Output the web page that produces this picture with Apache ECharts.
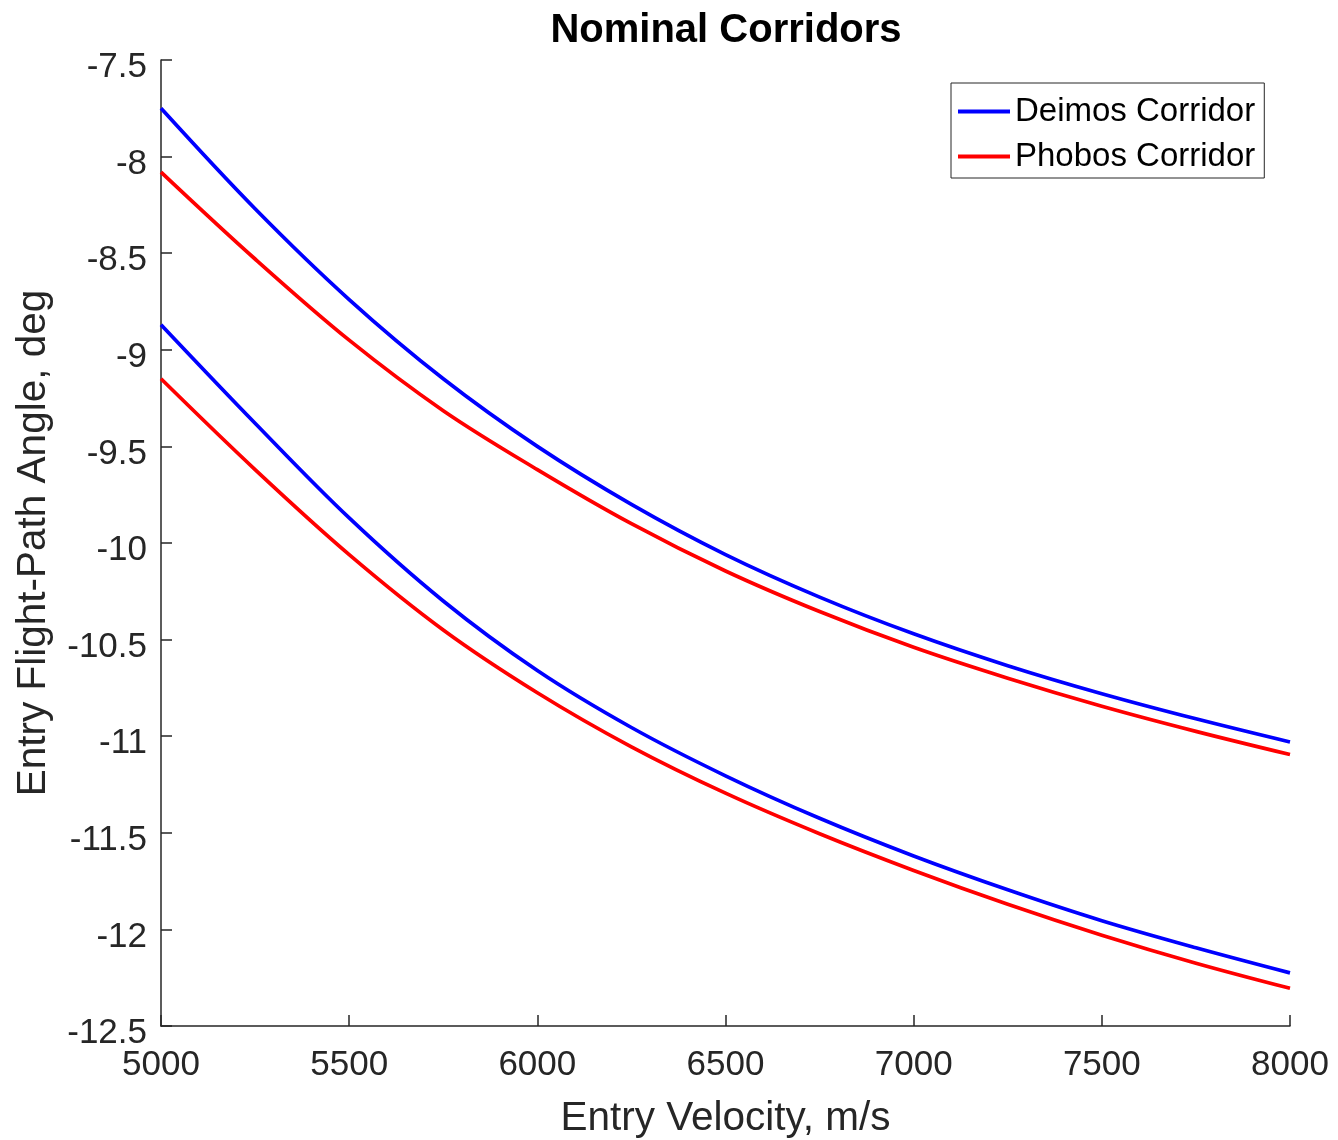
<!DOCTYPE html>
<html>
<head>
<meta charset="utf-8">
<script src="https://cdn.jsdelivr.net/npm/echarts@6/dist/echarts.min.js"></script>
<style>
html,body{margin:0;padding:0;background:#fff;}
#chart{width:1338px;height:1140px;}
</style>
</head>
<body>
<div id="chart"></div>
<script>
// Entry velocity, m/s
const velocity = [5000, 5250, 5500, 5750, 6000, 6250, 6500, 6750, 7000, 7250, 7500, 7750, 8000];
// Entry flight-path angle, deg
const deimosUpper = [-7.75, -8.27, -8.74, -9.15, -9.50, -9.80, -10.06, -10.28, -10.47, -10.635, -10.78, -10.91, -11.03];
const phobosUpper = [-8.08, -8.53, -8.95, -9.315, -9.62, -9.90, -10.145, -10.355, -10.54, -10.70, -10.845, -10.975, -11.095];
const deimosLower = [-8.87, -9.38, -9.87, -10.30, -10.66, -10.955, -11.205, -11.425, -11.62, -11.795, -11.955, -12.095, -12.225];
const phobosLower = [-9.15, -9.62, -10.06, -10.45, -10.775, -11.055, -11.295, -11.505, -11.695, -11.87, -12.03, -12.175, -12.305];

const titleText = 'Nominal Corridors';
const xName = 'Entry Velocity, m/s';
const yName = 'Entry Flight-Path Angle, deg';
const legendNames = ['Deimos Corridor', 'Phobos Corridor'];

const pair = (ys) => velocity.map((v, i) => [v, ys[i]]);
const FONT = 'Liberation Sans, Arial, Helvetica, sans-serif';
const AX = '#262626';

function lineSeries(name, ys, color) {
  return {
    name: name, type: 'line', data: pair(ys), smooth: 0.35,
    symbol: 'none', showSymbol: false,
    lineStyle: { color: color, width: 3.7 }, itemStyle: { color: color },
    z: 3
  };
}

const chart = echarts.init(document.getElementById('chart'));
chart.setOption({
  animation: false,
  backgroundColor: '#fff',
  title: {
    text: titleText, left: 721, top: 6, textAlign: 'center',
    textStyle: { fontFamily: FONT, fontWeight: 'bold', fontSize: 40, color: '#000' }
  },
  grid: { left: 161, right: 48, top: 60, bottom: 114, containLabel: false, outerBoundsMode: 'none' },
  legend: {
    data: legendNames, orient: 'vertical', left: 951, top: 83,
    icon: 'rect', itemWidth: 52, itemHeight: 4, itemGap: 12,
    padding: [12, 9, 5, 7],
    borderColor: AX, borderWidth: 1, backgroundColor: '#fff',
    textStyle: { fontFamily: FONT, fontSize: 33, color: '#000' }
  },
  xAxis: {
    type: 'value', min: 5000, max: 8000, interval: 500,
    name: xName, nameLocation: 'middle', nameGap: 72,
    nameTextStyle: { fontFamily: FONT, fontSize: 40.5, color: AX },
    axisLine: { show: true, lineStyle: { color: AX, width: 1.5 } },
    axisTick: { show: true, inside: true, length: 11, lineStyle: { color: AX, width: 1.5 } },
    axisLabel: { margin: 22, fontFamily: FONT, fontSize: 35, color: AX,
      formatter: (v) => String(v) },
    splitLine: { show: false }
  },
  yAxis: {
    type: 'value', min: -12.5, max: -7.5, interval: 0.5,
    name: yName, nameLocation: 'middle', nameGap: 107,
    nameTextStyle: { fontFamily: FONT, fontSize: 40.5, color: AX },
    axisLine: { show: true, lineStyle: { color: AX, width: 1.5 } },
    axisTick: { show: true, inside: true, length: 11, lineStyle: { color: AX, width: 1.5 } },
    axisLabel: { margin: 14, fontFamily: FONT, fontSize: 35, color: AX,
      verticalAlign: 'top', lineHeight: 15, formatter: (v) => String(v) },
    splitLine: { show: false }
  },
  series: [
    lineSeries(legendNames[0], deimosUpper, '#0000FF'),
    lineSeries(legendNames[1], phobosUpper, '#FF0000'),
    lineSeries(legendNames[0], deimosLower, '#0000FF'),
    lineSeries(legendNames[1], phobosLower, '#FF0000')
  ]
});
</script>
</body>
</html>
